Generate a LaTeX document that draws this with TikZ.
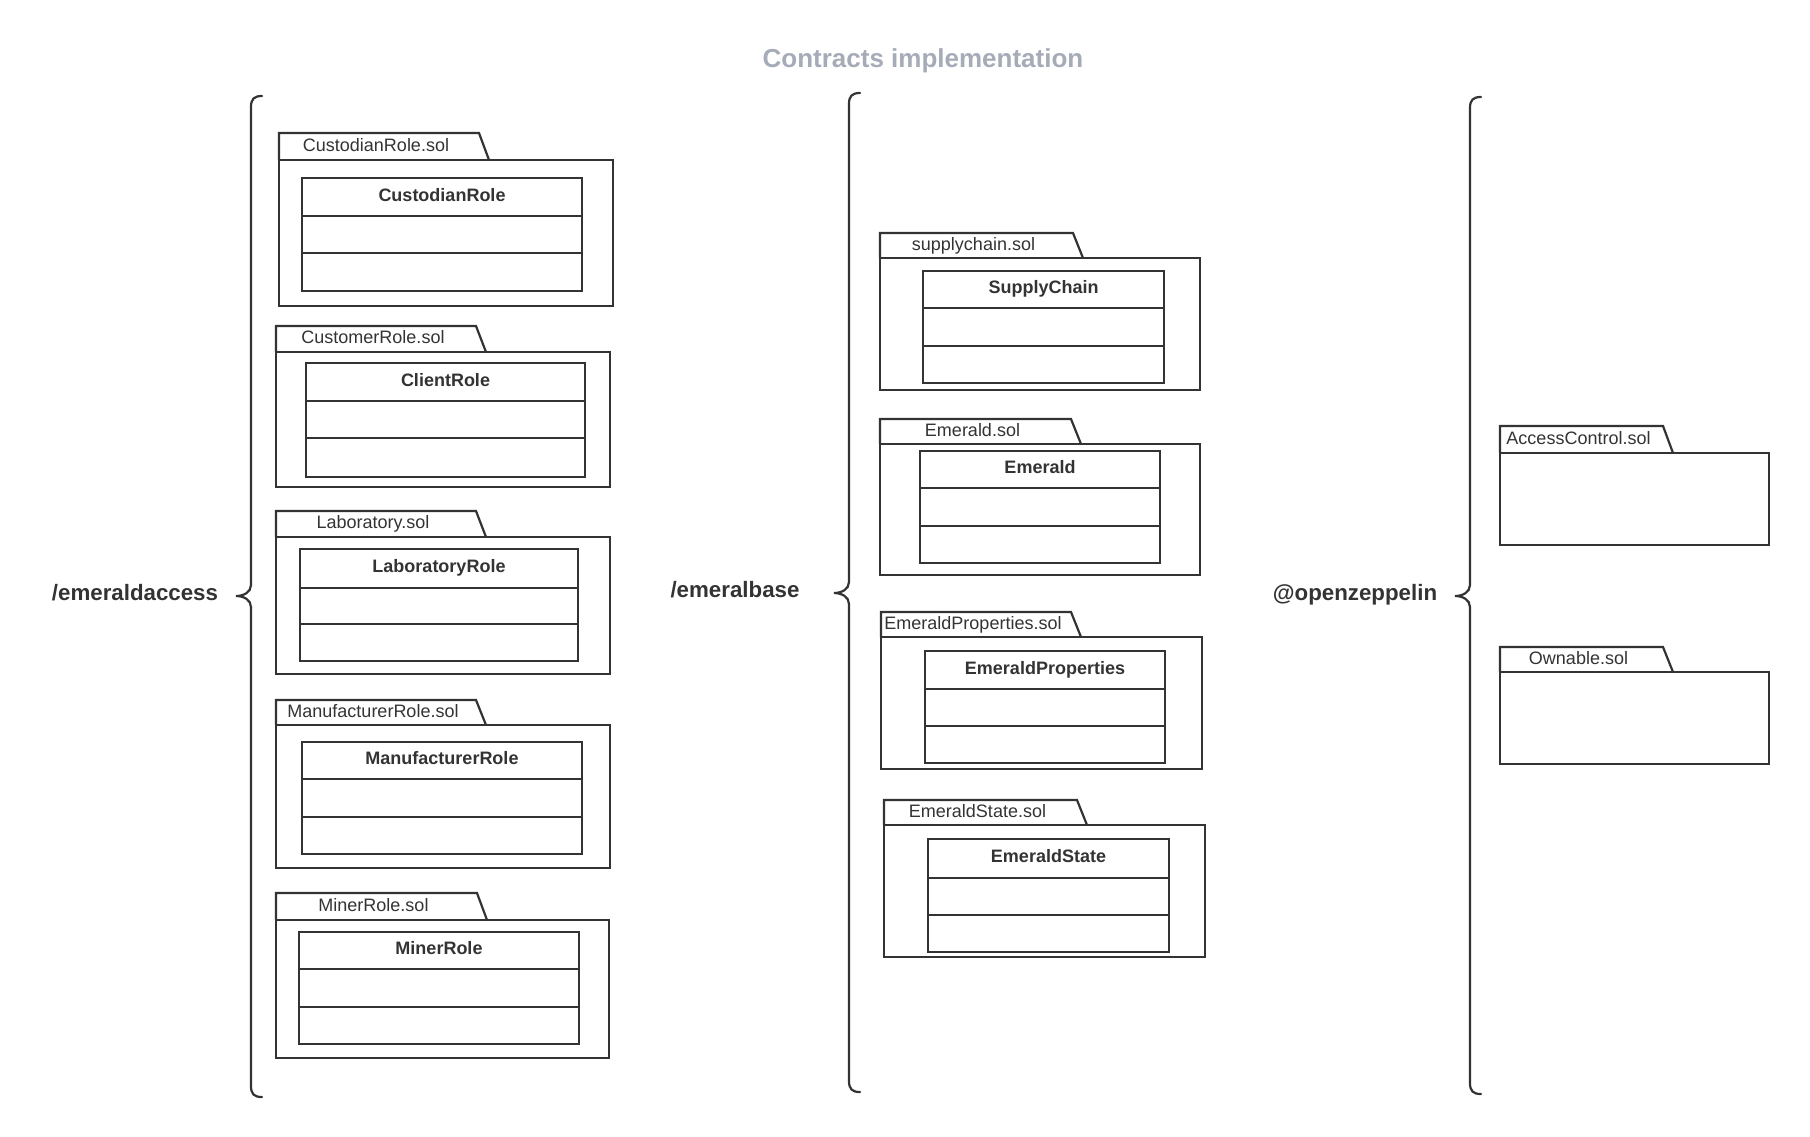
\documentclass[tikz,border=0pt]{standalone}
\usepackage{fontspec}
\setmainfont{Liberation Sans}
\definecolor{ink}{HTML}{333333}
\definecolor{titlegray}{HTML}{A5ACB7}
\tikzset{
  pkgline/.style={draw=ink, line width=2.2pt, line join=miter},
  braceline/.style={draw=ink, line width=2.2pt, line cap=round},
  tablabel/.style={font=\fontsize{18}{21}\selectfont, text=ink, inner sep=0pt, text height=13pt, text depth=0pt},
  clsname/.style={font=\fontsize{18}{21}\selectfont\bfseries, text=ink, inner sep=0pt, text height=13pt, text depth=0pt},
  grouplabel/.style={font=\fontsize{22.3}{26}\selectfont\bfseries, text=ink, inner sep=0pt, anchor=base},
  titlelabel/.style={font=\fontsize{26}{30}\selectfont\bfseries, text=titlegray, inner sep=0pt, anchor=base},
}
% #1 name, #2 L, #3 tabTop, #4 tabR, #5 bodyTop, #6 BR, #7 BB, #8 label
\newcommand\pkgbox[8]{%
  \draw[pkgline] (#2,#5) -- (#2,#3) -- (#4,#3) -- ([xshift=10pt]#4,#5);
  \draw[pkgline] (#2,#5) rectangle (#6,#7);
  \node[tablabel] (#1) at ({(#2+#4)/2-3},{(#3+#5)/2-2}) {#8};
}
% #1 name, #2 x1, #3 y1, #4 x2, #5 y2, #6 div1, #7 div2, #8 text
\newcommand\clsbox[8]{%
  \draw[pkgline] (#2,#3) rectangle (#4,#5);
  \draw[pkgline] (#2,#6) -- (#4,#6);
  \draw[pkgline] (#2,#7) -- (#4,#7);
  \node[clsname] (#1) at ({(#2+#4)/2},{(#3+#6)/2-2.5}) {#8};
}
% #1 x, #2 top, #3 mid, #4 bottom
\newcommand\groupbrace[4]{%
  \draw[braceline] ({#1+11},#2) .. controls ({#1+3},#2) and (#1,{#2+3}) .. (#1,{#2+11})
    -- (#1,{#3-11}) .. controls (#1,{#3-4}) and ({#1-7},#3) .. ({#1-15},#3)
    .. controls ({#1-7},#3) and (#1,{#3+4}) .. (#1,{#3+11})
    -- (#1,{#4-11}) .. controls (#1,{#4-3}) and ({#1+3},#4) .. ({#1+11},#4);
}
\begin{document}
\begin{tikzpicture}[x=1pt,y=-1pt]
\useasboundingbox (0,0) rectangle (1810,1136);

\node[titlelabel] (title) at (923,67) {Contracts implementation};

% group labels
\node[grouplabel] (gaccess) at (135,600) {/emeraldaccess};
\node[grouplabel] (gbase) at (735,597) {/emeralbase};
\node[grouplabel] (gozep) at (1355,600) {@openzeppelin};

% braces
\groupbrace{251}{96}{596}{1097}
\groupbrace{849}{93}{593}{1092}
\groupbrace{1470}{97}{596}{1094}

% left column
\pkgbox{pCust}{279}{133}{479}{160}{613}{306}{CustodianRole.sol}
\clsbox{cCust}{302}{178}{582}{291}{216}{253}{CustodianRole}

\pkgbox{pCustomer}{276}{326}{476}{352}{610}{487}{CustomerRole.sol}
\clsbox{cClient}{306}{363}{585}{477}{401}{438}{ClientRole}

\pkgbox{pLab}{276}{511}{476}{537}{610}{674}{Laboratory.sol}
\clsbox{cLab}{300}{549}{578}{661}{588}{624}{LaboratoryRole}

\pkgbox{pManu}{276}{700}{476}{725}{610}{868}{ManufacturerRole.sol}
\clsbox{cManu}{302}{742}{582}{854}{779}{817}{ManufacturerRole}

\pkgbox{pMiner}{276}{893}{477}{920}{609}{1058}{MinerRole.sol}
\clsbox{cMiner}{299}{932}{579}{1044}{969}{1007}{MinerRole}

% middle column
\pkgbox{pSupply}{880}{233}{1073}{258}{1200}{390}{supplychain.sol}
\clsbox{cSupply}{923}{271}{1164}{383}{308}{346}{SupplyChain}

\pkgbox{pEmerald}{880}{419}{1071}{444}{1200}{575}{Emerald.sol}
\clsbox{cEmerald}{920}{451}{1160}{563}{488}{526}{Emerald}

\pkgbox{pProps}{881}{612}{1071}{637}{1202}{769}{EmeraldProperties.sol}
\clsbox{cProps}{925}{651}{1165}{763}{689}{726}{EmeraldProperties}

\pkgbox{pState}{884}{800}{1077}{825}{1205}{957}{EmeraldState.sol}
\clsbox{cState}{928}{839}{1169}{952}{878}{915}{EmeraldState}

% right column
\pkgbox{pAccess}{1500}{426}{1663}{453}{1769}{545}{AccessControl.sol}
\pkgbox{pOwn}{1500}{647}{1663}{672}{1769}{764}{Ownable.sol}
\end{tikzpicture}
\end{document}
